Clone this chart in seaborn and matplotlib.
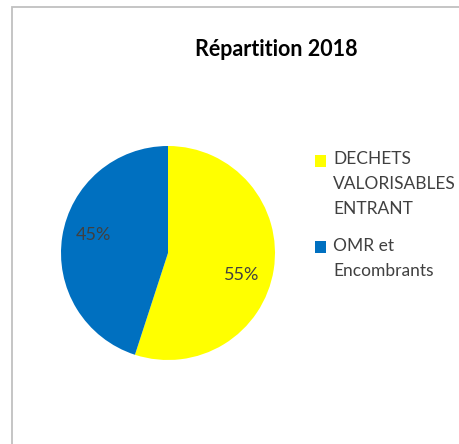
import matplotlib
matplotlib.use("Agg")
import matplotlib.pyplot as plt
import seaborn as sns
from matplotlib.patches import Rectangle, Patch
from matplotlib.legend_handler import HandlerPatch

sns.set_theme(style="white")
plt.rcParams['font.family'] = ['Lato', 'DejaVu Sans']

title = "Répartition 2018"
categories = ["DECHETS\nVALORISABLES\nENTRANT", "OMR et\nEncombrants"]
values = [55, 45]
colors = ["#FFFF00", "#0070C0"]

FS = 12.5
LS = 1.7

fig = plt.figure(figsize=(4.6, 4.44), dpi=100)
fig.patch.set_facecolor("white")

# outer chart border
fig.patches.append(Rectangle((12/460, -0.01), 1.0, 1 - 7/444 + 0.01,
                             transform=fig.transFigure, fill=False,
                             edgecolor="#c0c0c0", linewidth=1.3))

ax = fig.add_axes([(168-107)/460, (444-253-107)/444, 214/460, 214/444])
wedges, texts, autotexts = ax.pie(values, colors=colors, startangle=90,
                                  counterclock=False, autopct="%1.0f%%",
                                  pctdistance=0.7,
                                  wedgeprops=dict(edgecolor="none"),
                                  textprops=dict(fontsize=13, color="#404040"))
# Excel-like "best fit" label placement (nudged from the default)
nudges = [(0.0, -0.10), (-0.01, 0.06)]
for t, (dx, dy) in zip(autotexts, nudges):
    x, y = t.get_position()
    t.set_position((x + dx, y + dy))
ax.set_xlim(-1, 1)
ax.set_ylim(-1, 1)
ax.set_aspect("equal")

fig.text(276/460, 1 - 50/444, title, ha="center", va="center",
         fontsize=15.5, fontweight="bold", color="black")


class TopAlignedSquare(HandlerPatch):
    """Place the legend square next to the first line of a multi-line label."""
    def __init__(self, nlines, **kw):
        super().__init__(**kw)
        self.nlines = nlines

    def create_artists(self, legend, orig_handle, xdescent, ydescent,
                       width, height, fontsize, trans):
        shift = (self.nlines - 1) / 2 * fontsize * LS * 0.8
        p = Rectangle((-xdescent, -ydescent + shift), width, height,
                      facecolor=orig_handle.get_facecolor(), edgecolor="none",
                      transform=trans)
        return [p]


handles = [Patch(facecolor=c, edgecolor="none") for c in colors]
hmap = {h: TopAlignedSquare(lab.count("\n") + 1) for h, lab in zip(handles, categories)}
leg = fig.legend(handles, categories, loc="upper left",
                 bbox_to_anchor=(315/460, 1 - 151/444),
                 frameon=False, fontsize=FS, handlelength=0.64,
                 handleheight=0.64, handletextpad=0.4, labelspacing=1.2,
                 borderaxespad=0, borderpad=0, handler_map=hmap)
for t in leg.get_texts():
    t.set_color("#404040")
    t.set_linespacing(LS)

fig.savefig("out.png", dpi=100, facecolor="white")
